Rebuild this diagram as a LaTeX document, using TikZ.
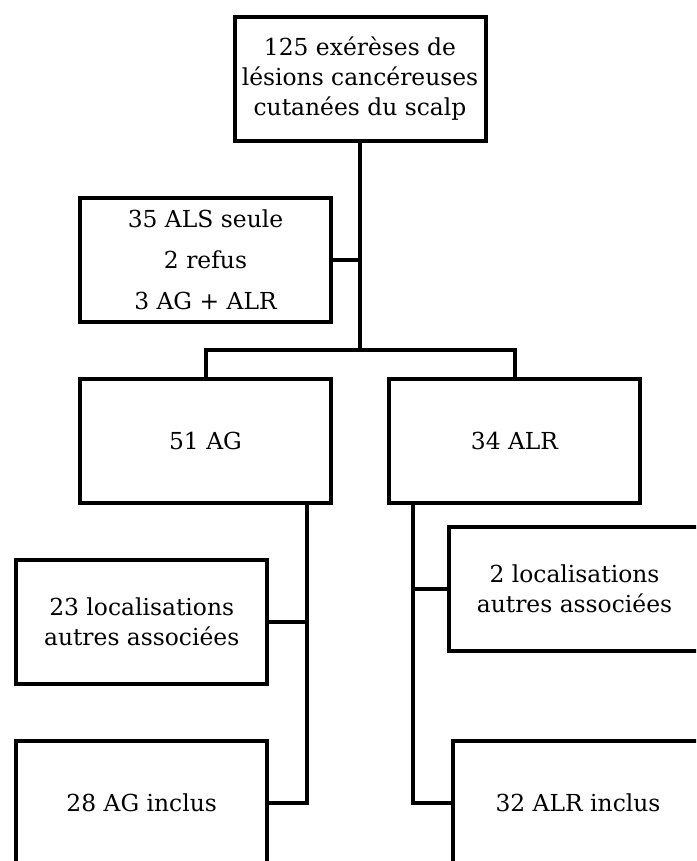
\documentclass[tikz,border=0pt]{standalone}
\usepackage{fontspec}
\setmainfont{DejaVu Serif}
\begin{document}
\begin{tikzpicture}[x=1pt, y=-1pt,
  box/.style={draw, line width=4pt, minimum width=251pt, minimum height=124pt,
    inner sep=0pt, align=center, font=\fontsize{23.4}{30}\selectfont},
  link/.style={line width=4pt}]
  \useasboundingbox (0,0) rectangle (696,861);
  \clip (0,0) rectangle (696,861);

  \node[box] (scalp) at (360,79) {125 exérèses de\\lésions cancéreuses\\cutanées du scalp};
  \node[box, font=\fontsize{23.4}{41}\selectfont] (excl) at (205.5,260) {35 ALS seule\\2 refus\\3 AG + ALR};
  \node[box] (ag) at (205.5,440.5) {51 AG};
  \node[box] (alr) at (514.5,440.5) {34 ALR};
  \node[box] (agloc) at (141.7,622) {23 localisations\\autres associées};
  \node[box] (agin) at (141.7,803) {28 AG inclus};
  \node[box] (alrloc) at (574.5,588.5) {2 localisations\\autres associées};
  \node[box] (alrin) at (578,803) {32 ALR inclus};

  \coordinate (split) at (360,350);
  \coordinate (agline) at (307,0);
  \coordinate (alrline) at (413,0);

  \draw[link] (scalp) -- (split);
  \draw[link] (excl.east) -- (excl.east -| split);
  \draw[link] (ag.north) |- (split) -| (alr.north);

  \draw[link] (ag.south -| agline) |- (agin.east);
  \draw[link] (agloc.east) -- (agloc.east -| agline);
  \draw[link] (alr.south -| alrline) |- (alrin.west);
  \draw[link] (alrloc.west) -- (alrloc.west -| alrline);
\end{tikzpicture}
\end{document}
